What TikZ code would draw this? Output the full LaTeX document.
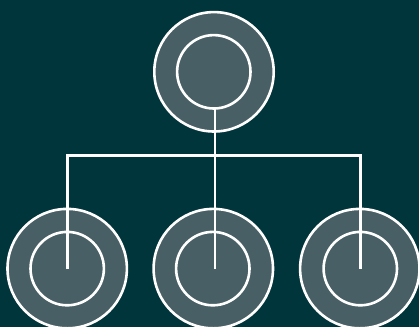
\documentclass[tikz,border=0pt]{standalone}
\definecolor{bgteal}{HTML}{00353B}
\definecolor{discfill}{HTML}{486065}
\tikzset{
  outerdisc/.style={circle,draw=white,fill=discfill,line width=2.6pt,minimum size=119.4pt,inner sep=0pt,outer sep=0pt},
  innerdisc/.style={circle,draw=white,line width=2.6pt,minimum size=73.4pt,inner sep=0pt,outer sep=0pt},
  connector/.style={draw=white,line width=2.6pt,line cap=butt,line join=miter}
}
\begin{document}
\begin{tikzpicture}[x=1pt,y=-1pt]
\useasboundingbox (0,0) rectangle (419,327);
\fill[bgteal] (0,0) rectangle (419,327);
\node[outerdisc] (topO) at (214,71.8) {};
\node[innerdisc] (topI) at (213.8,71.8) {};
\node[outerdisc] (leftO) at (67.2,268.6) {};
\node[innerdisc] (leftI) at (67.2,268.6) {};
\node[outerdisc] (midO) at (213.3,268.6) {};
\node[innerdisc] (midI) at (212.8,268.6) {};
\node[outerdisc] (rightO) at (359.8,268.6) {};
\node[innerdisc] (rightI) at (360.3,268.6) {};
\coordinate (hub) at (214.8,155.5);
\coordinate (stemTop) at (214.8,108);
\coordinate (leftEnd) at (67.2,269);
\coordinate (midEnd) at (214.8,269);
\coordinate (rightEnd) at (360.2,269);
\draw[connector] (stemTop) -- (midEnd);
\draw[connector] (leftEnd) |- (hub) -| (rightEnd);
\end{tikzpicture}
\end{document}
